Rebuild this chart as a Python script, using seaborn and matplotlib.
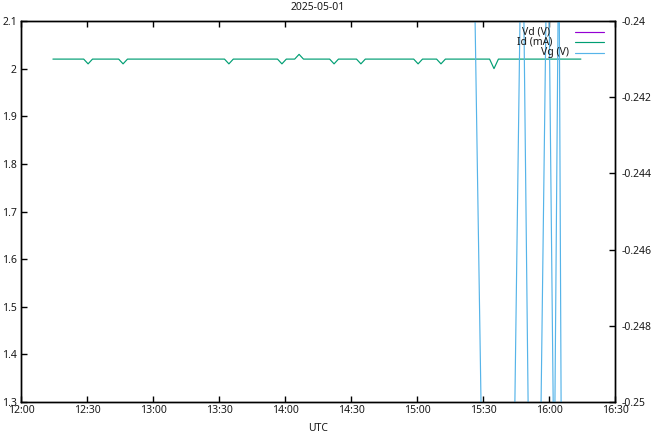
import matplotlib
matplotlib.use("Agg")
import matplotlib.pyplot as plt
import matplotlib.dates as mdates
from matplotlib.ticker import FuncFormatter, FixedLocator
import seaborn as sns
import pandas as pd

# ---------------- data (minutes after 12:00 UTC) ----------------
title = "2025-05-01"
day_start = "2025-05-01 12:00"

id_minutes = [14.5, 28.5, 30.5, 32.5, 44.4, 46.4, 48.4, 92.5, 94.5, 96.5,
              116.6, 118.6, 120.6, 124.4, 126.4, 128.4, 140.3, 142.3, 144.3,
              152.5, 154.5, 156.5, 178.5, 180.5, 182.5, 188.9, 190.9, 192.9,
              213.0, 215.0, 217.0, 254.5]
id_values = [2.02, 2.02, 2.01, 2.02, 2.02, 2.01, 2.02, 2.02, 2.01, 2.02,
             2.02, 2.01, 2.02, 2.02, 2.03, 2.02, 2.02, 2.01, 2.02,
             2.02, 2.01, 2.02, 2.02, 2.01, 2.02, 2.02, 2.01, 2.02,
             2.02, 2.00, 2.02, 2.02]

vg_minutes = [14.5, 205.6, 209.9, 223.8, 227.79, 231.07, 235.74, 239.43,
              242.35, 244.48, 245.74, 254.5]
vg_values = [-0.237, -0.237, -0.253, -0.253, -0.2357, -0.253, -0.253, -0.2362,
             -0.2525, -0.2373, -0.253, -0.253]

vd_minutes = []   # Vd never visible in the plotted range
vd_values = []

series_labels = ["Vd (V)", "Id (mA)", "Vg (V)"]
series_colors = ["#9400D3", "#009E73", "#56B4E9"]

left_ticks = [1.3, 1.4, 1.5, 1.6, 1.7, 1.8, 1.9, 2.0, 2.1]
right_ticks = [-0.25, -0.248, -0.246, -0.244, -0.242, -0.24]
x_tick_labels = ["12:00", "12:30", "13:00", "13:30", "14:00", "14:30",
                 "15:00", "15:30", "16:00", "16:30"]
x_label = "UTC"

# ---------------- build frames ----------------
t0 = pd.Timestamp(day_start)
def to_time(mins):
    return [t0 + pd.Timedelta(minutes=m) for m in mins]

df_id = pd.DataFrame({"t": to_time(id_minutes), "v": id_values})
df_vg = pd.DataFrame({"t": to_time(vg_minutes), "v": vg_values})
df_vd = pd.DataFrame({"t": pd.to_datetime(to_time(vd_minutes)), "v": pd.Series(vd_values, dtype=float)})

# ---------------- style ----------------
sns.set_style("ticks")
plt.rcParams["font.family"] = ["Noto Sans", "DejaVu Sans"]
FS = 7.5
plt.rcParams["font.size"] = FS
TXT = "#1a1a1a"

fig = plt.figure(figsize=(6.51, 4.32), dpi=100)
ax = fig.add_axes([21 / 651, 1 - 402 / 432, (615 - 21) / 651, (402 - 21) / 432])
ax2 = ax.twinx()

lw = 0.85
ax.plot([], [], color=series_colors[0], lw=lw)  # Vd (no visible data)
if len(df_vd):
    sns.lineplot(data=df_vd, x="t", y="v", ax=ax, color=series_colors[0], lw=lw,
                 estimator=None, sort=False, legend=False)
sns.lineplot(data=df_id, x="t", y="v", ax=ax, color=series_colors[1], lw=lw,
             estimator=None, sort=False, legend=False)
sns.lineplot(data=df_vg, x="t", y="v", ax=ax2, color=series_colors[2], lw=lw,
             estimator=None, sort=False, legend=False)

# axes ranges
xticks = to_time([30 * i for i in range(len(x_tick_labels))])
ax.set_xlim(xticks[0], xticks[-1])
ax.set_ylim(left_ticks[0], left_ticks[-1])
ax2.set_ylim(right_ticks[0], right_ticks[-1])

ax.xaxis.set_major_locator(FixedLocator(mdates.date2num(xticks)))
ax.xaxis.set_major_formatter(mdates.DateFormatter("%H:%M"))
ax.set_yticks(left_ticks)
ax.yaxis.set_major_formatter(FuncFormatter(lambda v, p: f"{round(v, 6):g}"))
ax2.set_yticks(right_ticks)
ax2.yaxis.set_major_formatter(FuncFormatter(lambda v, p: f"{round(v, 6):g}"))

ax.set_xlabel(x_label, labelpad=5, color=TXT, fontsize=FS)
ax.set_ylabel("")
ax2.set_ylabel("")
ax.set_title(title, pad=8, fontsize=FS, color=TXT)

for a in (ax, ax2):
    for s in a.spines.values():
        s.set_visible(True)
        s.set_linewidth(1.0)
        s.set_color("black")
ax.tick_params(axis="x", direction="in", length=4, width=1, top=True, pad=2, colors="black", labelsize=FS)
ax.tick_params(axis="y", direction="in", length=4, width=1, right=False, pad=3, colors="black", labelsize=FS)
ax2.tick_params(axis="y", direction="in", length=4, width=1, left=False, right=True, pad=4.5, colors="black", labelsize=FS)
ax.tick_params(labelcolor=TXT)
ax2.tick_params(labelcolor=TXT)

# gnuplot-like key: right-aligned text with line sample
key_rows = [(31.5 / 432, 550), (42.3 / 432, 552), (53.0 / 432, 569)]
for (yf, xend), lab, col in zip(key_rows, series_labels, series_colors):
    y = 1 - yf
    fig.text(xend / 651, y, lab, ha="right", va="center", fontsize=FS, color=TXT)
    fig.add_artist(plt.Line2D([575 / 651, 604 / 651], [y, y], color=col, lw=lw))

fig.savefig("out.png", dpi=100)
